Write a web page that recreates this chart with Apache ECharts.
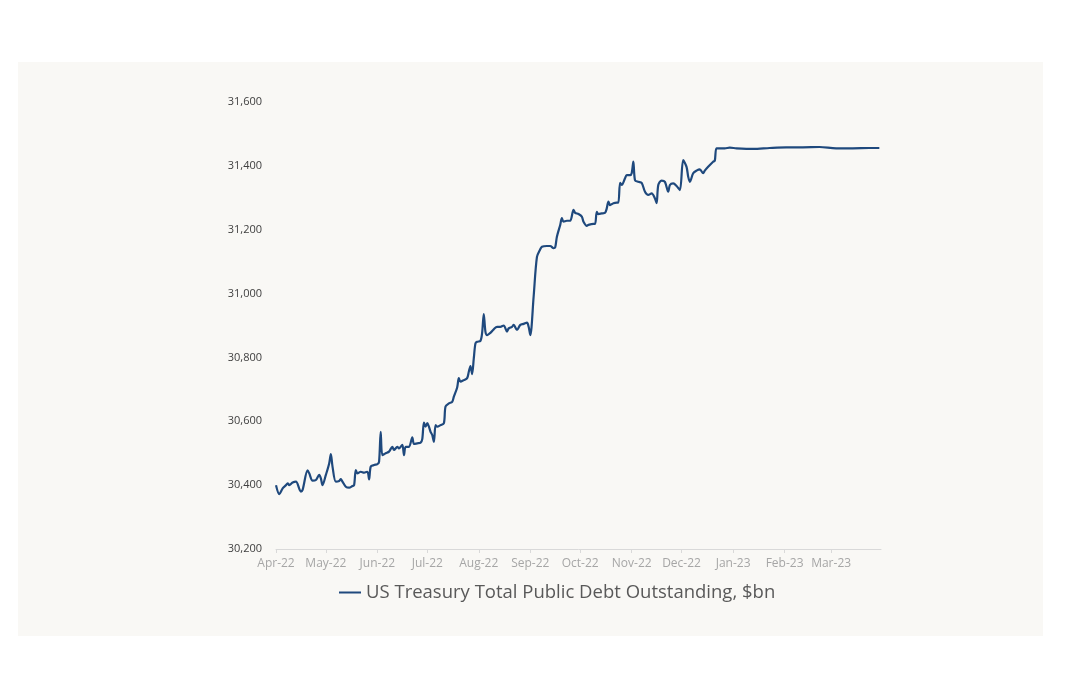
<!DOCTYPE html>
<html>
<head>
<meta charset="utf-8">
<script src="https://cdn.jsdelivr.net/npm/echarts@6/dist/echarts.min.js"></script>
<style>
html,body{margin:0;padding:0;background:#ffffff;}
#chart{width:1080px;height:675px;}
</style>
</head>
<body>
<div id="chart"></div>
<script>
// ---- data ----
const seriesName = 'US Treasury Total Public Debt Outstanding, $bn';
const monthLabels = ['Apr-22','May-22','Jun-22','Jul-22','Aug-22','Sep-22','Oct-22','Nov-22','Dec-22','Jan-23','Feb-23','Mar-23'];
const yTicks = [30200, 30400, 30600, 30800, 31000, 31200, 31400, 31600];
const dates = [
'2022-04-01','2022-04-03','2022-04-05','2022-04-07','2022-04-08','2022-04-09','2022-04-11','2022-04-13','2022-04-16','2022-04-17',
'2022-04-20','2022-04-21','2022-04-23','2022-04-25','2022-04-27','2022-04-28','2022-04-29','2022-05-01','2022-05-03','2022-05-04',
'2022-05-05','2022-05-07','2022-05-09','2022-05-10','2022-05-11','2022-05-13','2022-05-15','2022-05-17','2022-05-18','2022-05-19',
'2022-05-20','2022-05-22','2022-05-24','2022-05-26','2022-05-27','2022-05-28','2022-05-30','2022-06-01','2022-06-02','2022-06-03',
'2022-06-04','2022-06-06','2022-06-08','2022-06-10','2022-06-11','2022-06-13','2022-06-14','2022-06-16','2022-06-17','2022-06-18',
'2022-06-20','2022-06-22','2022-06-23','2022-06-25','2022-06-27','2022-06-28','2022-06-29','2022-06-30','2022-07-01','2022-07-02',
'2022-07-03','2022-07-04','2022-07-05','2022-07-06','2022-07-07','2022-07-09','2022-07-11','2022-07-12','2022-07-14','2022-07-16',
'2022-07-17','2022-07-19','2022-07-20','2022-07-21','2022-07-23','2022-07-25','2022-07-26','2022-07-27','2022-07-28','2022-07-29',
'2022-07-30','2022-07-31','2022-08-02','2022-08-03','2022-08-04','2022-08-05','2022-08-06','2022-08-08','2022-08-10','2022-08-12',
'2022-08-14','2022-08-16','2022-08-18','2022-08-19','2022-08-21','2022-08-22','2022-08-24','2022-08-26','2022-08-28','2022-08-30',
'2022-08-31','2022-09-01','2022-09-03','2022-09-05','2022-09-07','2022-09-08','2022-09-11','2022-09-13','2022-09-15','2022-09-16',
'2022-09-17','2022-09-19','2022-09-20','2022-09-21','2022-09-23','2022-09-25','2022-09-27','2022-09-28','2022-09-30','2022-10-02',
'2022-10-03','2022-10-05','2022-10-06','2022-10-09','2022-10-10','2022-10-11','2022-10-12','2022-10-14','2022-10-16','2022-10-17',
'2022-10-18','2022-10-19','2022-10-21','2022-10-23','2022-10-24','2022-10-25','2022-10-26','2022-10-28','2022-10-29','2022-10-31',
'2022-11-01','2022-11-02','2022-11-03','2022-11-05','2022-11-07','2022-11-09','2022-11-11','2022-11-13','2022-11-15','2022-11-16',
'2022-11-17','2022-11-19','2022-11-21','2022-11-23','2022-11-24','2022-11-26','2022-11-28','2022-11-30','2022-12-02','2022-12-04',
'2022-12-05','2022-12-06','2022-12-08','2022-12-10','2022-12-12','2022-12-14','2022-12-15','2022-12-17','2022-12-20','2022-12-21',
'2022-12-22','2022-12-24','2022-12-27','2022-12-30','2023-01-03','2023-01-13','2023-01-23','2023-02-02','2023-02-12','2023-02-22',
'2023-03-04','2023-03-14','2023-03-24','2023-03-30'
];
const debt = [
30400,30372,30390,30400,30406,30400,30408,30411,30380,30385,
30446,30437,30414,30416,30432,30421,30400,30432,30468,30497,
30458,30411,30413,30419,30411,30395,30392,30397,30400,30447,
30437,30442,30439,30442,30418,30458,30463,30466,30473,30567,
30494,30500,30505,30520,30510,30520,30515,30526,30494,30520,
30520,30550,30529,30531,30533,30544,30596,30583,30594,30583,
30567,30557,30536,30588,30583,30588,30594,30646,30656,30661,
30677,30706,30735,30724,30729,30735,30755,30773,30748,30797,
30844,30849,30852,30876,30936,30881,30870,30877,30888,30896,
30896,30900,30881,30891,30896,30902,30886,30902,30905,30909,
30896,30870,30990,31115,31139,31147,31149,31149,31142,31145,
31178,31215,31236,31225,31228,31228,31262,31253,31249,31241,
31225,31212,31215,31218,31218,31256,31249,31251,31253,31267,
31288,31277,31283,31285,31285,31347,31340,31361,31371,31371,
31377,31413,31355,31350,31347,31319,31309,31314,31298,31283,
31340,31354,31350,31319,31340,31345,31337,31324,31418,31397,
31366,31350,31377,31385,31389,31377,31385,31397,31413,31416,
31455,31455,31455,31457,31455,31453,31456,31458,31458,31459,
31455,31455,31456,31456
];

// ---- axis categories: every calendar day of the fiscal year ----
const days = [];
(function(){
  const start = Date.UTC(2022,3,1), end = Date.UTC(2023,2,31);
  for (let t = start; t <= end; t += 86400000) {
    days.push(new Date(t).toISOString().slice(0,10));
  }
})();
const monthNames = ['Jan','Feb','Mar','Apr','May','Jun','Jul','Aug','Sep','Oct','Nov','Dec'];
function labelFor(d){
  const m = monthNames[parseInt(d.slice(5,7),10)-1] + '-' + d.slice(2,4);
  return monthLabels.indexOf(m) >= 0 ? m : '';
}
const isMonthStart = (i, v) => v.slice(8,10) === '01';

const lineData = dates.map((d,i) => [days.indexOf(d), debt[i]]);

const chart = echarts.init(document.getElementById('chart'), null, {renderer:'canvas'});
chart.setOption({
  animation:false,
  backgroundColor:'#ffffff',
  graphic:[{type:'rect', z:-10, shape:{x:18,y:62,width:1025,height:574}, style:{fill:'#f9f8f5'}}],
  grid:{left:276, right:199, top:102, bottom:126, containLabel:false},
  legend:{
    data:[seriesName], bottom:68, left:334,
    itemWidth:22, itemHeight:2, itemGap:10,
    icon:'rect',
    textStyle:{color:'#595959', fontSize:18.5, fontFamily:'Open Sans'}
  },
  xAxis:{
    type:'category', data:days, boundaryGap:false,
    axisLine:{lineStyle:{color:'#d9d9d9'}},
    axisTick:{show:true, interval:isMonthStart, length:4, lineStyle:{color:'#d9d9d9'}},
    axisLabel:{interval:isMonthStart, formatter:labelFor, color:'#a6a6a6', fontSize:12, margin:9, fontFamily:'Open Sans'},
    splitLine:{show:false}
  },
  yAxis:{
    type:'value', min:yTicks[0], max:yTicks[yTicks.length-1], interval:200,
    axisLine:{show:false}, axisTick:{show:false}, splitLine:{show:false},
    axisLabel:{color:'#404040', fontSize:11, margin:14, fontFamily:'Open Sans',
      formatter:v => v.toLocaleString('en-US')}
  },
  series:[{
    name:seriesName, type:'line', data:lineData, showSymbol:false, smooth:0.3,
    lineStyle:{color:'#1f497d', width:2.2}, itemStyle:{color:'#1f497d'}
  }]
});
</script>
</body>
</html>
